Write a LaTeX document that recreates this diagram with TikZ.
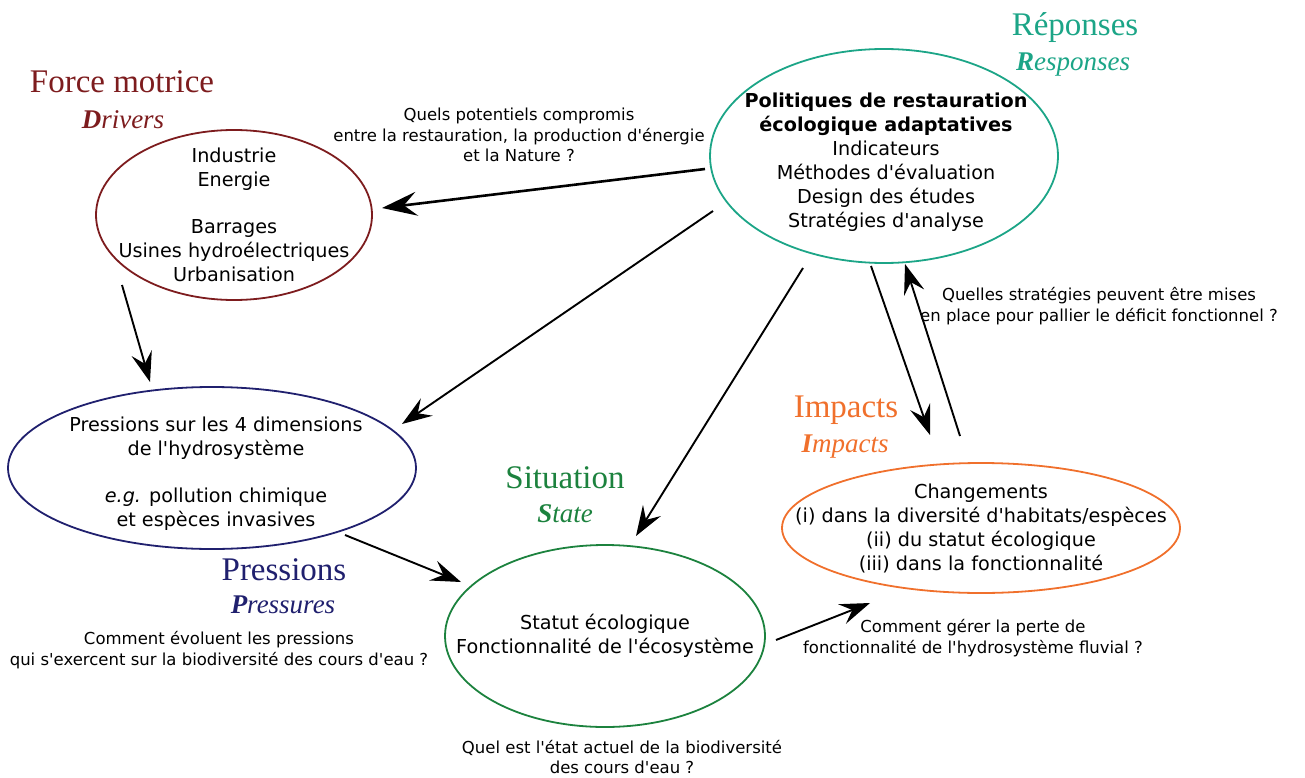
\documentclass[tikz,border=0pt]{standalone}
\usepackage{fontspec}
\setmainfont{DejaVu Sans}
\newfontfamily\serifttl{Liberation Serif}
\usetikzlibrary{arrows.meta,shapes.geometric,positioning}
\definecolor{drvcol}{RGB}{125,28,30}
\definecolor{rspcol}{RGB}{28,165,135}
\definecolor{prscol}{RGB}{32,32,110}
\definecolor{stacol}{RGB}{28,130,62}
\definecolor{impcol}{RGB}{240,112,44}
\newcommand{\ap}{\textquotesingle}
\tikzset{
	bulle/.style={draw=#1,ellipse,line width=1.8pt,inner sep=0pt},
	contenu/.style={align=center,text=black,font=\fontsize{19.2}{24}\selectfont},
	titre/.style={anchor=base,font=\serifttl\fontsize{33}{36}\selectfont},
	soustitre/.style={anchor=base,font=\serifttl\fontsize{27}{30}\selectfont\itshape},
	question/.style={align=center,font=\fontsize{16.5}{20.5}\selectfont},
	fleche/.style={line width=1.9pt,-{Stealth[length=30pt,width=21pt,inset=11pt]}}
}

\begin{document}
\begin{tikzpicture}[x=1pt,y=-1pt]
	\useasboundingbox (0,0) rectangle (1305,778);
	% ellipses
	\node[bulle=drvcol,minimum width=276pt,minimum height=170pt] (drv) at (234,215) {};
	\node[contenu] (drvtxt) at (drv) {Industrie\\Energie\\[23pt]Barrages\\Usines hydroélectriques\\Urbanisation};
	\node[bulle=rspcol,minimum width=348pt,minimum height=214pt] (rsp) at (884,156) {};
	\node[contenu] (rsptxt) at (886,162) {\textbf{Politiques de restauration}\\\textbf{écologique adaptatives}\\Indicateurs\\Méthodes d\ap{}évaluation\\Design des études\\Stratégies d\ap{}analyse};
	\node[bulle=prscol,minimum width=408pt,minimum height=162pt] (prs) at (212,468) {};
	\node[contenu] (prstxt) at (216,474) {Pressions sur les 4 dimensions\\de l\ap{}hydrosystème\\[23pt]\textit{e.g.} pollution chimique\\et espèces invasives};
	\node[bulle=stacol,minimum width=320pt,minimum height=182pt] (sta) at (605,636) {};
	\node[contenu] (statxt) at (sta) {Statut écologique\\Fonctionnalité de l\ap{}écosystème};
	\node[bulle=impcol,minimum width=398pt,minimum height=130pt] (imp) at (981,528) {};
	\node[contenu] (imptxt) at (imp) {Changements\\(i) dans la diversité d\ap{}habitats/espèces\\(ii) du statut écologique\\(iii) dans la fonctionnalité};
	% titres
	\node[titre,drvcol] (drvT) at (122,93) {Force motrice};
	\node[soustitre,drvcol] (drvS) at (123,129) {{\bfseries D}rivers};
	\node[titre,rspcol] (rspT) at (1075,36) {Réponses};
	\node[soustitre,rspcol] (rspS) at (1073,71) {{\bfseries R}esponses};
	\node[titre,prscol] (prsT) at (284,580) {Pressions};
	\node[soustitre,prscol] (prsS) at (283,613) {{\bfseries P}ressures};
	\node[titre,stacol] (staT) at (565,488) {Situation};
	\node[soustitre,stacol] (staS) at (565,522) {{\bfseries S}tate};
	\node[titre,impcol] (impT) at (846,417) {Impacts};
	\node[soustitre,impcol] (impS) at (845,452) {{\bfseries I}mpacts};
	% questions
	\node[question] (qdrv) at (519,135) {Quels potentiels compromis\\entre la restauration, la production d\ap{}énergie\\et la Nature ?};
	\node[question] (qrsp) at (1099,306) {Quelles stratégies peuvent être mises\\en place pour pallier le déficit fonctionnel ?};
	\node[question] (qimp) at (973,638) {Comment gérer la perte de\\fonctionnalité de l\ap{}hydrosystème fluvial ?};
	\node[question] (qprs) at (219,650) {Comment évoluent les pressions\\qui s\ap{}exercent sur la biodiversité des cours d\ap{}eau ?};
	\node[question] (qsta) at (622,757) {Quel est l\ap{}état actuel de la biodiversité\\des cours d\ap{}eau ?};
	% bouts des fleches
	\coordinate (rsp-drv) at (705,169);  \coordinate (drv-in) at (382,208);
	\coordinate (drv-out) at (122,285);  \coordinate (prs-in1) at (150,382);
	\coordinate (rsp-prs) at (713,211);  \coordinate (prs-in2) at (402,424);
	\coordinate (rsp-sta) at (803,268);  \coordinate (sta-in1) at (636,536);
	\coordinate (rsp-imp) at (871,266);  \coordinate (imp-in) at (930,435);
	\coordinate (imp-out) at (960,436);  \coordinate (rsp-in) at (905,264);
	\coordinate (prs-out) at (345,535);  \coordinate (sta-in2) at (461,582);
	\coordinate (sta-out) at (776,640);  \coordinate (imp-in2) at (870,603);
	\draw[line width=2.6pt,-{Stealth[length=35pt,width=24pt,inset=13pt]}] (rsp-drv) -- (drv-in);
	\draw[fleche] (drv-out) -- (prs-in1);
	\draw[fleche] (rsp-prs) -- (prs-in2);
	\draw[fleche] (rsp-sta) -- (sta-in1);
	\draw[fleche] (rsp-imp) -- (imp-in);
	\draw[fleche] (imp-out) -- (rsp-in);
	\draw[fleche] (prs-out) -- (sta-in2);
	\draw[fleche] (sta-out) -- (imp-in2);
\end{tikzpicture}
\end{document}
